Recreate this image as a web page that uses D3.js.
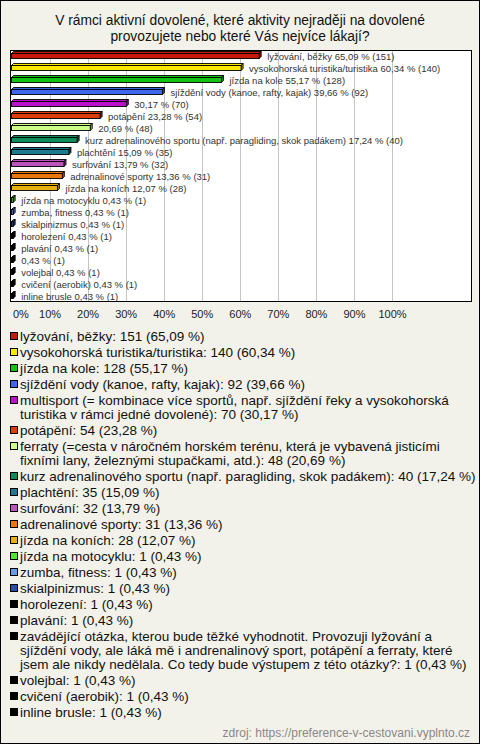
<!DOCTYPE html>
<html>
<head>
<meta charset="utf-8">
<script src="https://cdn.jsdelivr.net/npm/d3@7"></script>
<style>
  body { margin: 0; padding: 0; background: #fff; }
  svg { display: block; font-family: "Liberation Sans", Arial, sans-serif; }
</style>
</head>
<body>
<script>
"use strict";
(function(){
    // data ("\n" marks where the legend wraps in the original)
    const categories = [
        "lyžování, běžky",
        "vysokohorská turistika/turistika",
        "jízda na kole",
        "sjíždění vody (kanoe, rafty, kajak)",
        "multisport (= kombinace více sportů, např. sjíždění řeky a vysokohorská\nturistika v rámci jedné dovolené)",
        "potápění",
        "ferraty (=cesta v náročném horském terénu, která je vybavená jisticími\nfixními lany, železnými stupačkami, atd.)",
        "kurz adrenalinového sportu (např. paragliding, skok padákem)",
        "plachtění",
        "surfování",
        "adrenalinové sporty",
        "jízda na koních",
        "jízda na motocyklu",
        "zumba, fitness",
        "skialpinizmus",
        "horolezení",
        "plavání",
        "zavádějící otázka, kterou bude těžké vyhodnotit. Provozuji lyžování a\nsjíždění vody, ale láká mě i andrenalinový sport, potápění a ferraty, které\njsem ale nikdy nedělala. Co tedy bude výstupem z této otázky?",
        "volejbal",
        "cvičení (aerobik)",
        "inline brusle"
    ]
    // long names are left out of the bar labels, as in the original
    const barLabels = [
        "lyžování, běžky", "vysokohorská turistika/turistika", "jízda na kole",
        "sjíždění vody (kanoe, rafty, kajak)", "", "potápění", "",
        "kurz adrenalinového sportu (např. paragliding, skok padákem)",
        "plachtění", "surfování", "adrenalinové sporty", "jízda na koních",
        "jízda na motocyklu", "zumba, fitness", "skialpinizmus", "horolezení",
        "plavání", "", "volejbal", "cvičení (aerobik)", "inline brusle"
    ]
    const counts = [151, 140, 128, 92, 70, 54, 48, 40, 35, 32, 31, 28, 1, 1, 1, 1, 1, 1, 1, 1, 1]
    const percents = [65.09, 60.34, 55.17, 39.66, 30.17, 23.28, 20.69, 17.24, 15.09, 13.79, 13.36, 12.07,
        0.43, 0.43, 0.43, 0.43, 0.43, 0.43, 0.43, 0.43, 0.43]
    const colors = ["#c8180c", "#fbe800", "#12c412", "#3f66ee", "#bb10cc", "#de3c0c", "#ccff88",
        "#0f8c5c", "#1c7a8e", "#bb55bb", "#ea760c", "#e6b00e", "#4ee830", "#6b9be0", "#2a4cae",
        "#000000", "#000000", "#000000", "#000000", "#000000", "#000000"]
    const ticks = [0, 10, 20, 30, 40, 50, 60, 70, 80, 90, 100]

    const titleLines = [
        "V rámci aktivní dovolené, které aktivity nejraději na dovolené",
        "provozujete nebo které Vás nejvíce lákají?"
    ]
    const sourceText = "zdroj: https://preference-v-cestovani.vyplnto.cz"

    const measurements = {
        width: 480,
        height: 744,
        plotLeft: 10,
        plotTop: 50,
        plotRight: 471,
        plotBottom: 301
    }

    const fmt = (v) => v.toFixed(2).replace(".", ",")

    let svg = d3.select("body").append("svg")
        .attr("width", measurements.width)
        .attr("height", measurements.height)

    // background + frame
    svg.append("rect")
        .attr("x", 0.5).attr("y", 0.5)
        .attr("width", measurements.width - 1).attr("height", measurements.height - 1)
        .attr("fill", "#f3f2ea").attr("stroke", "#000")

    // title
    svg.append("g").selectAll("text")
        .data(titleLines)
        .enter().append("text")
        .attr("x", 240)
        .attr("y", (d, i) => 25 + i * 16)
        .attr("text-anchor", "middle")
        .attr("font-size", 13.8)
        .attr("fill", "#111")
        .text(d => d)

    // plot area
    svg.append("rect")
        .attr("x", measurements.plotLeft + 0.5).attr("y", measurements.plotTop + 0.5)
        .attr("width", measurements.plotRight - measurements.plotLeft)
        .attr("height", measurements.plotBottom - measurements.plotTop)
        .attr("fill", "#fff").attr("stroke", "#000")

    let scaleX = d3.scaleLinear()
        .domain([0, 100])
        .range([11.5, 392])

    let scaleY = d3.scalePoint()
        .domain(categories)
        .range([56, 296])

    // gridlines
    svg.append("g").selectAll("line")
        .data(ticks.slice(1))
        .enter().append("line")
        .attr("x1", d => Math.round(scaleX(d)) + 0.5)
        .attr("x2", d => Math.round(scaleX(d)) + 0.5)
        .attr("y1", measurements.plotTop + 1)
        .attr("y2", measurements.plotBottom)
        .attr("stroke", "#c4c4c4")

    // x axis labels (no axis line in the original)
    let xAxis = d3.axisBottom(scaleX)
        .tickValues(ticks)
        .tickSize(0)
        .tickPadding(0)
        .tickFormat(d => d + "%")
    let axisG = svg.append("g")
        .attr("transform", "translate(0, 310)")
        .call(xAxis)
    axisG.select(".domain").remove()
    axisG.selectAll("text")
        .attr("font-family", "Liberation Sans, Arial, sans-serif")
        .attr("font-size", 11)
        .attr("fill", "#222")
    axisG.selectAll(".tick").filter(d => d === 0).select("text")
        .attr("text-anchor", "start")
        .attr("x", 1)

    // 3d bars
    const depth = 2
    const half = 2.5
    let bars = svg.append("g").selectAll("g")
        .data(categories.map((c, i) => ({ cat: c, pct: percents[i], n: counts[i], color: colors[i], label: barLabels[i] })))
        .enter().append("g")

    const x0 = scaleX(0)
    bars.append("path")
        .attr("d", d => {
            const c = scaleY(d.cat), xv = scaleX(d.pct)
            return `M${x0},${c - half} L${x0 + depth},${c - half - depth} L${xv + depth},${c - half - depth} L${xv},${c - half} Z`
        })
        .attr("fill", d => d.color)
        .attr("stroke", "#000").attr("stroke-width", 0.9)
    bars.append("path")
        .attr("d", d => {
            const c = scaleY(d.cat), xv = scaleX(d.pct)
            return `M${xv},${c - half} L${xv + depth},${c - half - depth} L${xv + depth},${c + half - depth} L${xv},${c + half} Z`
        })
        .attr("fill", d => d3.color(d.color).darker(1))
        .attr("stroke", "#000").attr("stroke-width", 0.9)
    bars.append("rect")
        .attr("x", x0)
        .attr("y", d => scaleY(d.cat) - half)
        .attr("width", d => scaleX(d.pct) - x0)
        .attr("height", half * 2)
        .attr("fill", d => d.color)
        .attr("stroke", "#000").attr("stroke-width", 0.9)

    bars.append("text")
        .attr("x", d => scaleX(d.pct) + 8)
        .attr("y", d => scaleY(d.cat) + 3.5)
        .attr("font-size", 9.5)
        .attr("fill", "#333")
        .text(d => (d.label ? d.label + " " : "") + fmt(d.pct) + " % (" + d.n + ")")

    // legend
    let legend = svg.append("g")
    let y = 336
    categories.forEach((cat, i) => {
        legend.append("rect")
            .attr("x", 10.5).attr("y", y - 3.5)
            .attr("width", 7).attr("height", 7)
            .attr("fill", colors[i]).attr("stroke", "#000")
        const lines = (cat + ": " + counts[i] + " (" + fmt(percents[i]) + " %)").split("\n")
        legend.append("text")
            .attr("x", 20)
            .attr("y", y + 4.5)
            .attr("font-size", 13.5)
            .attr("fill", "#111")
            .selectAll("tspan")
            .data(lines)
            .enter().append("tspan")
            .attr("x", 20)
            .attr("dy", (d, j) => j === 0 ? 0 : 14)
            .text(d => d)
        y += 16 + (lines.length - 1) * 14
    })

    // source
    svg.append("text")
        .attr("x", 470)
        .attr("y", 737)
        .attr("text-anchor", "end")
        .attr("font-size", 12)
        .attr("fill", "#888")
        .text(sourceText)
})()
</script>
</body>
</html>
